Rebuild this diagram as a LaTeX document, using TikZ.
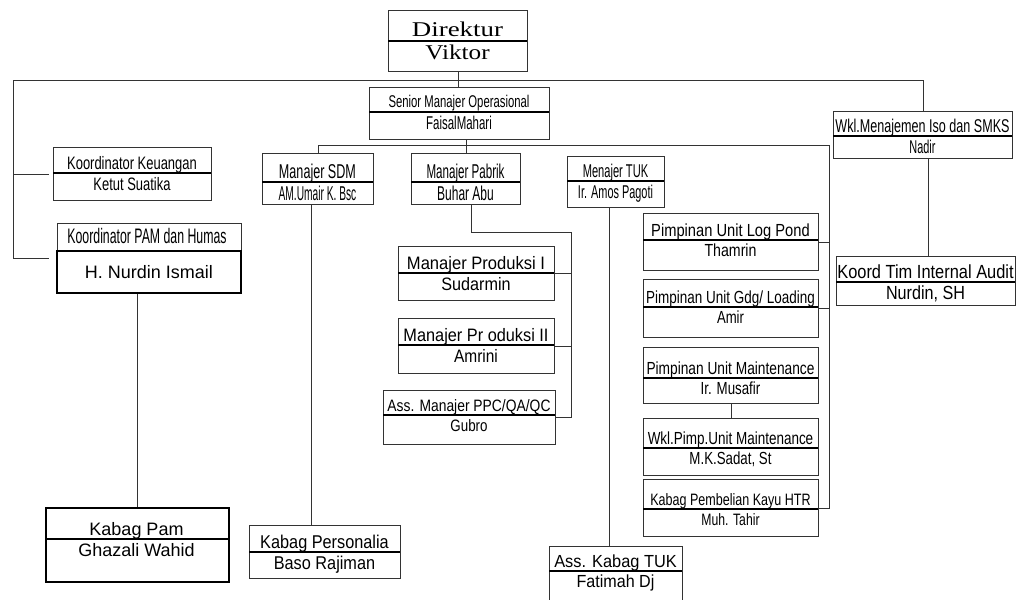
\documentclass[tikz,border=0pt]{standalone}
\usepackage{fontspec}
\usepackage{graphicx}
\setmainfont{Liberation Sans}
\newfontfamily\seriffam{Liberation Serif}
\usetikzlibrary{calc}
% text at size #1, squeezed to #2 of its width
\newcommand{\tx}[3]{\fontsize{#1}{#1}\selectfont\scalebox{#2}[1]{#3}}
% one unit: name, corners, line, post, holder
\newcommand{\unit}[9][]{%
  \node[unit,#1,minimum width={(#5-#3)*1pt},minimum height={(#6-#4)*1pt},anchor=north west] (#2) at (#3,#4) {};
  \draw[divider] (#3,#7) -- (#5,#7);
  \node[txt,anchor=base] (#2-t) at ({(#3+#5)/2},#7-4) {#8};
  \node[txt,anchor=north] (#2-n) at ({(#3+#5)/2},#7+4) {#9};
}
\begin{document}
\begin{tikzpicture}[x=1pt,y=-1pt,
    unit/.style={draw=black!80,line width=0.9pt,inner sep=0pt},
    heavy/.style={draw=black,line width=1.8pt},
    divider/.style={black,line width=1.8pt},
    txt/.style={inner sep=0pt},
    link/.style={black!80,line width=0.9pt}]
\useasboundingbox (0,0) rectangle (1016,599);
\clip (0,0) rectangle (1016,599);
\unit{dir}{388}{10}{527}{71}{41}{{\seriffam\tx{21}{1.28}{Direktur}}}{{\seriffam\tx{21}{1.2}{Viktor}\hspace{20pt}}}
\unit{sen}{369}{87}{549}{139}{112}{\tx{17}{0.666}{Senior Manajer Operasional}}{\tx{18.5}{0.62}{FaisalMahari}}
\unit{sdm}{262}{153}{373}{204}{182}{\tx{20}{0.63}{Manajer SDM}}{\tx{20}{0.51}{AM.Umair K. Bsc}}
\unit{pab}{411}{153}{520}{204}{182}{\tx{20}{0.58}{Manajer Pabrik}}{\tx{20}{0.60}{Buhar Abu}}
\unit{tuk}{567}{156}{664}{207}{181}{\tx{18.5}{0.60}{Menajer TUK}}{\tx{18.5}{0.59}{Ir. Amos Pagoti}}
\unit{wkl}{833}{111}{1012}{158}{136}{\tx{18.5}{0.68}{Wkl.Menajemen Iso dan SMKS}}{\tx{18.5}{0.59}{Nadir}}
\unit{keu}{53}{147}{211}{200}{173}{\tx{18}{0.72}{Koordinator Keuangan}}{\tx{18}{0.72}{Ketut Suatika}}
\unit{pam}{57}{223}{241}{293}{251}{}{}
\draw[heavy] (57,251) rectangle (241,293);
\node[txt,anchor=base] (pam-k) at (147,243) {\tx{21}{0.586}{Koordinator PAM dan Humas}};
\node[txt] (pam-h) at (149,272) {\tx{18}{1}{H. Nurdin Ismail}};
\unit[heavy]{kpam}{45}{507}{228}{581}{539}{\tx{18}{1}{Kabag Pam}}{\tx{18}{1}{Ghazali Wahid}}
\unit{pers}{249}{525}{400}{578}{552}{\tx{18.5}{0.88}{Kabag Personalia}}{\tx{18.5}{0.88}{Baso Rajiman}}
\unit{prod1}{398}{246}{554}{300}{273}{\tx{18}{0.92}{Manajer Produksi I}}{\tx{18}{0.90}{Sudarmin}}
\unit{prod2}{398}{318}{554}{373}{345}{\tx{18}{0.906}{Manajer Pr oduksi II}}{\tx{18}{0.86}{Amrini}}
\unit{ppc}{383}{390}{555}{444}{415}{\tx{16.5}{0.84}{Ass. Manajer PPC/QA/QC}}{\tx{16.5}{0.81}{Gubro}}
\unit{logp}{643}{213}{818}{270}{240}{\tx{17.5}{0.84}{Pimpinan Unit Log Pond}}{\tx{17.5}{0.81}{Thamrin}}
\unit{gdg}{643}{279}{818}{337}{307}{\tx{17.5}{0.77}{Pimpinan Unit Gdg/ Loading}}{\tx{17.5}{0.75}{Amir}}
\unit{maint}{643}{347}{818}{403}{378}{\tx{17.5}{0.785}{Pimpinan Unit Maintenance}}{\tx{17.5}{0.76}{Ir. Musafir}}
\unit{wpim}{643}{418}{818}{475}{448}{\tx{17.5}{0.77}{Wkl.Pimp.Unit Maintenance}}{\tx{17.5}{0.76}{M.K.Sadat, St}}
\unit{beli}{643}{479}{818}{536}{509}{\tx{16.5}{0.76}{Kabag Pembelian Kayu HTR}}{\tx{16.5}{0.74}{Muh. Tahir}}
\unit{audit}{836}{256}{1015}{305}{282}{\tx{19}{0.864}{Koord Tim Internal Audit}}{\tx{19}{0.85}{Nurdin, SH}}
\unit{asstuk}{549}{546}{682}{612}{571}{\tx{17.5}{0.935}{Ass. Kabag TUK}}{\tx{17.5}{0.92}{Fatimah Dj}}
% lines
\coordinate (corner) at (13,80);
\coordinate (busR) at (829,145);
\coordinate (pabR) at (571,232);
\draw[link] (dir.south) -- (dir.south |- sen.north);
\draw[link] (wkl.north) |- (corner) |- ([xshift=-8pt]pam.west);
\draw[link] (corner |- keu.west) -- ([xshift=-4pt]keu.west);
\draw[link] (pab.north |- sen.south) -- (pab.north);
\draw[link] (sdm.north) |- (busR) |- (beli.east);
\draw[link] (logp.east) -- (logp.east -| busR);
\draw[link] (gdg.east) -- (gdg.east -| busR);
\draw[link] ([xshift=5pt]pab.south) |- (pabR) |- (ppc.east);
\draw[link] (prod1.east) -- (prod1.east -| pabR);
\draw[link] (prod2.east) -- (prod2.east -| pabR);
\draw[link] ([xshift=-7pt]sdm.south) -- ([xshift=-7pt]sdm.south |- pers.north);
\draw[link] ([xshift=-6.5pt]tuk.south) -- ([xshift=-6.5pt]tuk.south |- asstuk.north);
\draw[link] (kpam.north) -- (kpam.north |- pam.south);
\draw[link] ([xshift=5.5pt]wkl.south) -- ([xshift=5.5pt]wkl.south |- audit.north);
\draw[link] (maint.south) -- (wpim.north);
\end{tikzpicture}
\end{document}
